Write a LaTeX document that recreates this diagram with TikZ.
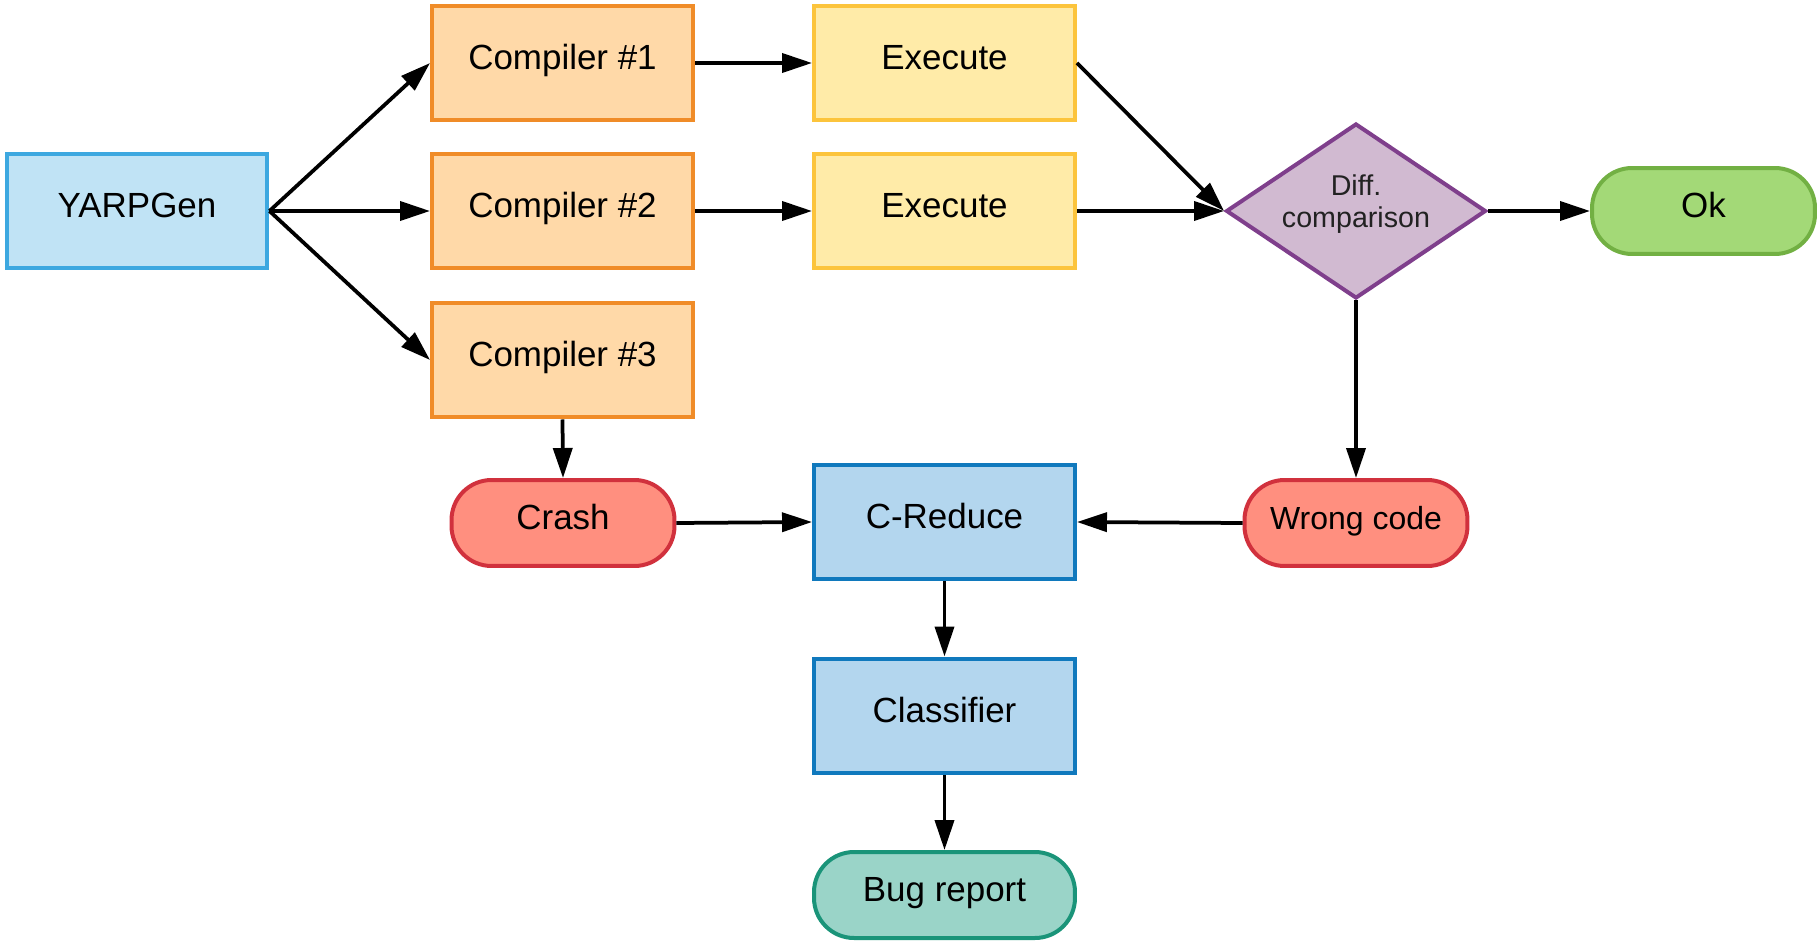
\documentclass[tikz,border=0pt]{standalone}
\usepackage{fontspec}
\setmainfont{Liberation Sans}
\usetikzlibrary{shapes.geometric,arrows.meta}
\definecolor{yfill}{HTML}{C0E3F5}\definecolor{ydraw}{HTML}{3DA8E0}
\definecolor{cfill}{HTML}{FFD9A8}\definecolor{cdraw}{HTML}{F08C28}
\definecolor{efill}{HTML}{FFEBA8}\definecolor{edraw}{HTML}{FCC43C}
\definecolor{dfill}{HTML}{D1BAD1}\definecolor{ddraw}{HTML}{7F3F8C}
\definecolor{okfill}{HTML}{A3D977}\definecolor{okdraw}{HTML}{72B043}
\definecolor{rfill}{HTML}{FF8F7F}\definecolor{rdraw}{HTML}{D1313D}
\definecolor{bfill}{HTML}{B3D6EE}\definecolor{bdraw}{HTML}{1079BD}
\definecolor{gfill}{HTML}{9AD4C8}\definecolor{gdraw}{HTML}{1A9479}
\definecolor{dtextc}{HTML}{222222}
\begin{document}
\begin{tikzpicture}[x=0.02cm,y=-0.02cm,
  base/.style={draw, line width=0.08cm, font=\fontsize{19.9}{24}\selectfont,
    text height=0.5cm, text depth=0.24cm, inner sep=0pt},
  rectbox/.style={base, rectangle, minimum width=5.22cm, minimum height=2.30cm},
  pill/.style={base, rectangle, rounded corners=0.8cm, minimum width=4.46cm, minimum height=1.72cm},
  widepill/.style={pill, minimum width=5.22cm},
  diam/.style={draw, line width=0.08cm, diamond, inner sep=0pt, minimum width=5.2cm, minimum height=3.5cm},
  conn/.style={line width=0.075cm, -{Triangle[length=0.6cm, width=0.38cm]}}
]
\useasboundingbox (0,0) rectangle (1819,943);
\node[rectbox, fill=yfill, draw=ydraw] (Y) at (137,211) {YARPGen};
\node[rectbox, fill=cfill, draw=cdraw] (c1) at (562.5,63) {Compiler \#1};
\node[rectbox, fill=cfill, draw=cdraw] (c2) at (562.5,211) {Compiler \#2};
\node[rectbox, fill=cfill, draw=cdraw] (c3) at (562.5,360) {Compiler \#3};
\node[rectbox, fill=efill, draw=edraw] (e1) at (944.5,63) {Execute};
\node[rectbox, fill=efill, draw=edraw] (e2) at (944.5,211) {Execute};
\node[diam, fill=dfill, draw=ddraw] (d) at (1356,211) {};
\node[font=\fontsize{16.3}{18.5}\selectfont, text=dtextc, align=center, inner sep=0pt] (dtext) at (1356,204) {Diff.\\comparison};
\node[pill, fill=okfill, draw=okdraw] (ok) at (1703.5,211) {Ok};
\node[pill, fill=rfill, draw=rdraw] (crash) at (563,523) {Crash};
\node[rectbox, fill=bfill, draw=bdraw] (cr) at (944.5,522) {C-Reduce};
\node[pill, fill=rfill, draw=rdraw, font=\fontsize{18.2}{22}\selectfont] (wc) at (1356,523) {Wrong code};
\node[rectbox, fill=bfill, draw=bdraw] (cl) at (944.5,716) {Classifier};
\node[widepill, fill=gfill, draw=gdraw] (br) at (944.5,895) {Bug report};

\draw[conn] (Y.east) -- (c1.west);
\draw[conn] (Y.east) -- (c2.west);
\draw[conn] (Y.east) -- (c3.west);
\draw[conn] (c1.east) -- (e1.west);
\draw[conn] (c2.east) -- (e2.west);
\draw[conn] (e1.east) -- (d.west);
\draw[conn] (e2.east) -- (d.west);
\draw[conn] (d.east) -- (ok.west);
\draw[conn] (d.south) -- (wc.north);
\draw[conn] (c3.south) -- (crash.north);
\draw[conn] (crash.east) -- (cr.west);
\draw[conn] (wc.west) -- (cr.east);
\draw[conn] (cr.south) -- (cl.north);
\draw[conn] (cl.south) -- (br.north);
\end{tikzpicture}
\end{document}
